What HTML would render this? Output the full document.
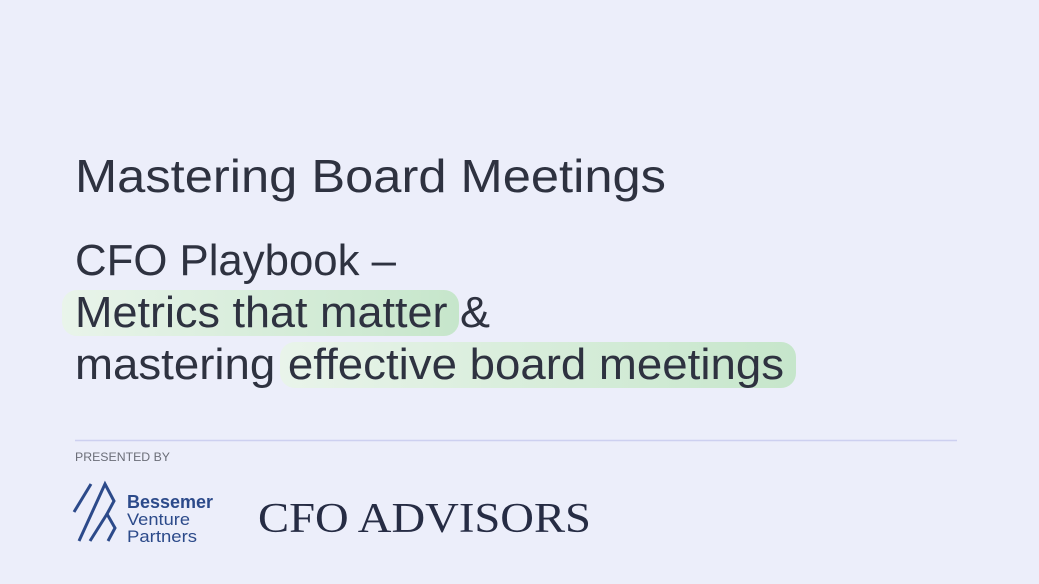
<!DOCTYPE html>
<html><head><meta charset="utf-8"><style>
html,body{margin:0;padding:0;background:#eceefa;}
svg{display:block}
</style></head><body>
<svg width="1039" height="584" viewBox="0 0 1039 584">
<defs>
<linearGradient id="hl" x1="0" x2="1" y1="0" y2="0">
<stop offset="0" stop-color="#e9f4ea"/><stop offset="1" stop-color="#c6e6cb"/>
</linearGradient>
</defs>
<rect width="1039" height="584" fill="#eceefa"/>
<text x="75" y="192" font-family="Liberation Sans, sans-serif" font-size="46" fill="#2e3240" textLength="591" lengthAdjust="spacingAndGlyphs">Mastering Board Meetings</text>
<rect x="62" y="290" width="397" height="46" rx="15" fill="url(#hl)"/>
<rect x="280" y="342" width="516" height="46" rx="15" fill="url(#hl)"/>
<g font-family="Liberation Sans, sans-serif" font-size="44" fill="#2e3240">
<text x="75" y="275" textLength="321" lengthAdjust="spacingAndGlyphs">CFO Playbook –</text>
<text x="75" y="327" textLength="415" lengthAdjust="spacingAndGlyphs">Metrics that matter &amp;</text>
<text x="75" y="379" textLength="709" lengthAdjust="spacingAndGlyphs">mastering effective board meetings</text>
</g>
<line x1="75" y1="440.5" x2="957" y2="440.5" stroke="#cdd0f0" stroke-width="1.5"/>
<text x="75" y="461" font-family="Liberation Sans, sans-serif" font-size="12" fill="#6b6e78" textLength="95" lengthAdjust="spacingAndGlyphs">PRESENTED BY</text>
<g stroke="#2c4a8a" stroke-width="3" fill="none" stroke-linecap="butt" stroke-linejoin="miter">
<line x1="91" y1="484" x2="74" y2="512"/>
<polyline points="79,541 105,484 114,501 107,514 115,528 108,541"/>
<line x1="107" y1="514" x2="90" y2="541"/>
</g>
<g font-family="Liberation Sans, sans-serif" fill="#2c4a8a">
<text x="127" y="508" font-size="18" font-weight="bold" textLength="86" lengthAdjust="spacingAndGlyphs">Bessemer</text>
<text x="127" y="525" font-size="17" textLength="63" lengthAdjust="spacingAndGlyphs">Venture</text>
<text x="127" y="542" font-size="17" textLength="70" lengthAdjust="spacingAndGlyphs">Partners</text>
</g>
<text x="258" y="532" font-family="Liberation Serif, serif" font-size="42" fill="#262c44" textLength="333" lengthAdjust="spacingAndGlyphs">CFO ADVISORS</text>
</svg>
</body></html>
